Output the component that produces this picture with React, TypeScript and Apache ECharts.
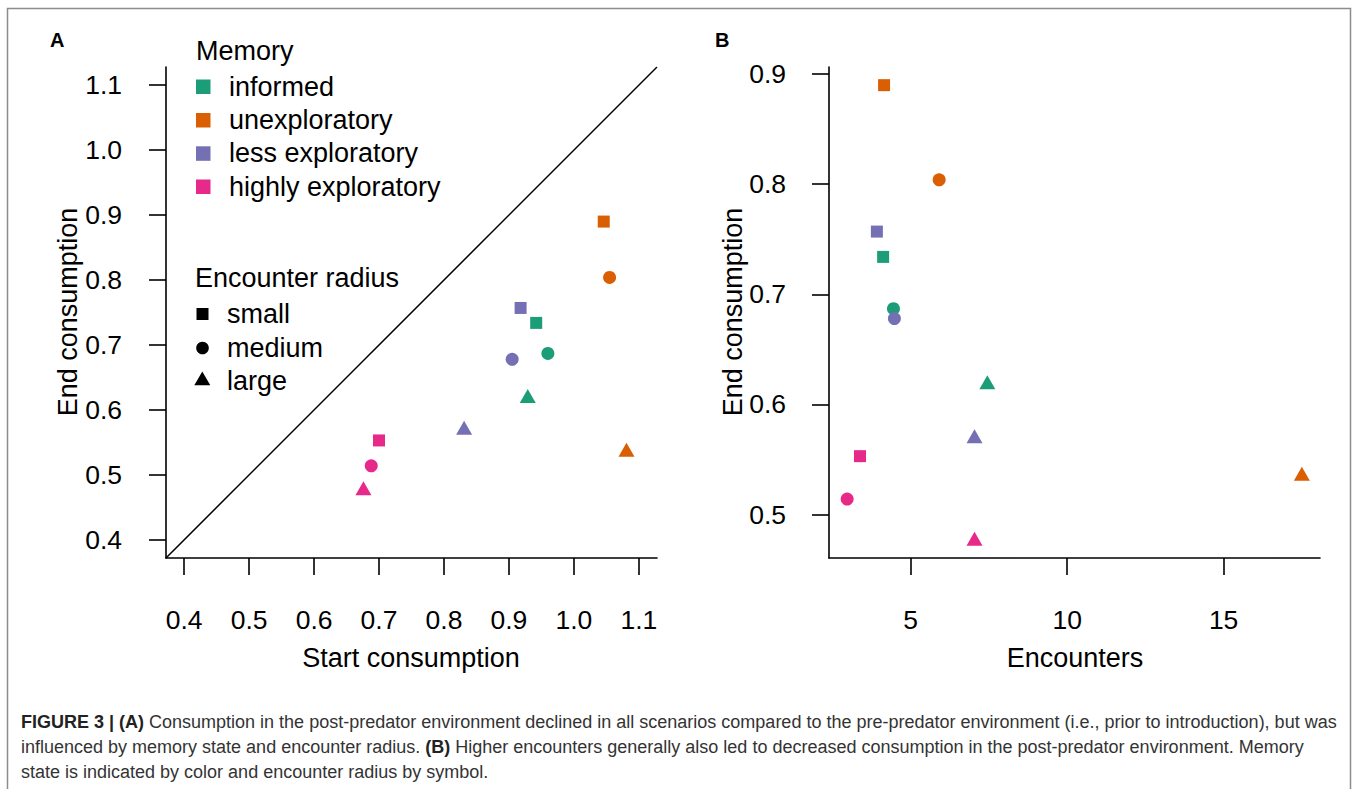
import React, { useEffect, useRef } from "react";
import * as echarts from "echarts";

// ---------- data ----------
const memoryStates = ["informed", "unexploratory", "less exploratory", "highly exploratory"];
const memoryColors = ["#1B9E77", "#D95F02", "#7570B3", "#E7298A"];
const radii = ["small", "medium", "large"];

// values ordered by encounter radius: small, medium, large
const startInformed = [0.942, 0.960, 0.929];
const endInformed = [0.734, 0.687, 0.618];
const encInformed = [4.12, 4.45, 7.45];

const startUnexploratory = [1.046, 1.055, 1.081];
const endUnexploratory = [0.890, 0.804, 0.535];
const encUnexploratory = [4.15, 5.91, 17.5];

const startLessExploratory = [0.918, 0.905, 0.831];
const endLessExploratory = [0.757, 0.678, 0.569];
const encLessExploratory = [3.92, 4.48, 7.04];

const startHighlyExploratory = [0.700, 0.688, 0.676];
const endHighlyExploratory = [0.553, 0.514, 0.476];
const encHighlyExploratory = [3.38, 2.97, 7.04];

const startAll = [startInformed, startUnexploratory, startLessExploratory, startHighlyExploratory];
const endAll = [endInformed, endUnexploratory, endLessExploratory, endHighlyExploratory];
const encAll = [encInformed, encUnexploratory, encLessExploratory, encHighlyExploratory];

const ticksA = [0.4, 0.5, 0.6, 0.7, 0.8, 0.9, 1.0, 1.1];
const xTicksB = [5, 10, 15];
const yTicksB = [0.5, 0.6, 0.7, 0.8, 0.9];

const limA = [0.372, 1.128];
const xLimB = [2.39, 18.08];
const yLimB = [0.4605, 0.9065];

// ---------- styling ----------
const FONT = "'Liberation Sans', Arial, Helvetica, sans-serif";
const AX_FS = 26.5;
const TXT_FS = 27;
const CAP_FS = 18;

const symbolFor = ["rect", "circle", "triangle"];
const sizeFor: any[] = [12, 13, [16, 14]];
const offsetFor: any[] = [[0, 0], [0, 0], [0, -2.3]];

function axis(gridIndex: number, lim: number[], ticks: number[], fmt: (v: number) => string, margin: number) {
  return {
    type: "value",
    gridIndex,
    min: lim[0],
    max: lim[1],
    axisLine: { show: true, onZero: false, lineStyle: { color: "#000", width: 1.6 } },
    axisTick: { show: true, inside: false, length: 17, customValues: ticks, lineStyle: { color: "#000", width: 1.6 } },
    axisLabel: {
      customValues: ticks,
      formatter: (v: number) => fmt(v),
      fontSize: AX_FS,
      fontFamily: FONT,
      color: "#000",
      margin,
    },
    splitLine: { show: false },
  };
}

function makeSeries() {
  const s: any[] = [];
  s.push({
    type: "line",
    xAxisIndex: 0,
    yAxisIndex: 0,
    data: [
      [limA[0], limA[0]],
      [limA[1], limA[1]],
    ],
    symbol: "none",
    lineStyle: { color: "#000", width: 1.5 },
    silent: true,
    z: 1,
  });
  memoryStates.forEach((name, i) => {
    s.push({
      type: "scatter",
      name: name + " A",
      xAxisIndex: 0,
      yAxisIndex: 0,
      z: 3,
      itemStyle: { color: memoryColors[i], opacity: 1 },
      data: radii.map((_, j) => ({
        value: [startAll[i][j], endAll[i][j]],
        symbol: symbolFor[j],
        symbolSize: sizeFor[j],
        symbolOffset: offsetFor[j],
      })),
    });
    s.push({
      type: "scatter",
      name: name + " B",
      xAxisIndex: 1,
      yAxisIndex: 1,
      z: 3,
      itemStyle: { color: memoryColors[i], opacity: 1 },
      data: radii.map((_, j) => ({
        value: [encAll[i][j], endAll[i][j]],
        symbol: symbolFor[j],
        symbolSize: sizeFor[j],
        symbolOffset: offsetFor[j],
      })),
    });
  });
  return s;
}

function txt(text: string, x: number, y: number, opts: any = {}) {
  const style: any = {
    text,
    fontSize: opts.fontSize || TXT_FS,
    fontFamily: FONT,
    fontWeight: opts.fontWeight || "normal",
    fill: opts.fill || "#000",
    align: opts.align || "left",
    verticalAlign: "middle",
  };
  if (opts.rich) style.rich = opts.rich;
  return {
    type: "text",
    x,
    y,
    rotation: opts.rotation || 0,
    style,
  };
}

function makeGraphics() {
  const g: any[] = [];
  g.push({
    type: "rect",
    shape: { x: 7.5, y: 8.5, width: 1343, height: 820 },
    style: { fill: "none", stroke: "#8c8c8c", lineWidth: 1.5 },
  });
  g.push(txt("A", 50, 40, { fontSize: 20, fontWeight: "bold" }));
  g.push(txt("B", 715, 40, { fontSize: 20, fontWeight: "bold" }));

  // axis titles
  g.push(txt("End consumption", 68, 312, { align: "center", rotation: Math.PI / 2 }));
  g.push(txt("Start consumption", 411, 658, { align: "center" }));
  g.push(txt("End consumption", 733, 312, { align: "center", rotation: Math.PI / 2 }));
  g.push(txt("Encounters", 1075, 658, { align: "center" }));

  // legend: memory
  g.push(txt("Memory", 196, 51));
  const memY = [86.5, 120, 153.3, 186.5];
  memoryStates.forEach((m, i) => {
    g.push({
      type: "rect",
      shape: { x: 196, y: memY[i] - 7, width: 14.5, height: 14.5 },
      style: { fill: memoryColors[i] },
    });
    g.push(txt(m, 229, memY[i]));
  });

  // legend: encounter radius
  g.push(txt("Encounter radius", 195, 278));
  g.push({ type: "rect", shape: { x: 196.5, y: 308, width: 12, height: 12 }, style: { fill: "#000" } });
  g.push({ type: "circle", shape: { cx: 202.5, cy: 348, r: 6.3 }, style: { fill: "#000" } });
  g.push({
    type: "polygon",
    shape: { points: [[202.3, 371.5], [210.3, 385.3], [194.3, 385.3]] },
    style: { fill: "#000" },
  });
  const radY = [314, 348, 381];
  radii.forEach((r, i) => g.push(txt(r, 227, radY[i])));

  // caption
  const capFill = "#333";
  const rich = { b: { fontWeight: "bold", fontSize: CAP_FS, fontFamily: FONT, fill: "#222" } };
  g.push(
    txt(
      "{b|FIGURE 3 | (A)} Consumption in the post-predator environment declined in all scenarios compared to the pre-predator environment (i.e., prior to introduction), but was",
      21,
      722,
      { fontSize: CAP_FS, fill: capFill, rich }
    )
  );
  g.push(
    txt(
      "influenced by memory state and encounter radius. {b|(B)} Higher encounters generally also led to decreased consumption in the post-predator environment. Memory",
      21,
      747,
      { fontSize: CAP_FS, fill: capFill, rich }
    )
  );
  g.push(
    txt("state is indicated by color and encounter radius by symbol.", 21, 772, { fontSize: CAP_FS, fill: capFill })
  );
  return g;
}

export default function App() {
  const ref = useRef<HTMLDivElement>(null);
  useEffect(() => {
    if (!ref.current) return;
    const chart = echarts.init(ref.current, undefined, { renderer: "svg" });
    const fmt1 = (v: number) => v.toFixed(1);
    const fmt0 = (v: number) => String(Math.round(v));
    chart.setOption({
      animation: false,
      backgroundColor: "#fff",
      grid: [
        { left: 166, top: 67, width: 491, height: 491 },
        { left: 829, top: 67, width: 491, height: 491 },
      ],
      xAxis: [axis(0, limA, ticksA, fmt1, 48), axis(1, xLimB, xTicksB, fmt0, 48)],
      yAxis: [axis(0, limA, ticksA, fmt1, 44), axis(1, yLimB, yTicksB, fmt1, 43)],
      series: makeSeries(),
      graphic: makeGraphics(),
    });
    return () => chart.dispose();
  }, []);
  return (
    <div
      ref={ref}
      style={{ position: "fixed", left: 0, top: 0, width: 1357, height: 789, background: "#fff" }}
    />
  );
}
